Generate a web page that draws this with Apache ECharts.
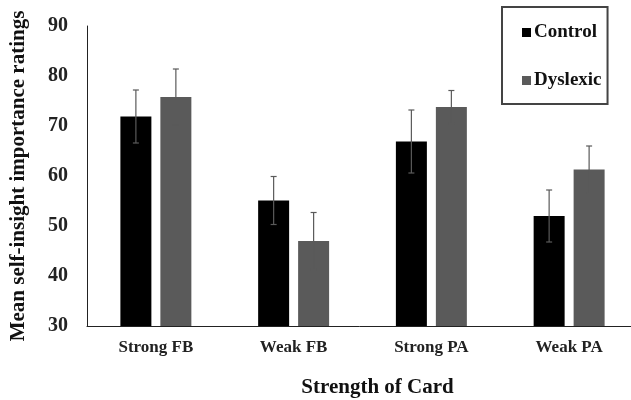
<!DOCTYPE html>
<html>
<head>
<meta charset="utf-8">
<script src="https://cdn.jsdelivr.net/npm/echarts@6/dist/echarts.min.js"></script>
<style>html,body{margin:0;padding:0;background:#fff}#c{width:631px;height:400px}</style>
</head>
<body>
<div id="c"></div>
<script>
const categories = ['Strong FB', 'Weak FB', 'Strong PA', 'Weak PA'];
const controlValues = [71.9, 55.1, 66.9, 52.0];
const controlErrors = [5.3, 4.8, 6.3, 5.2];
const dyslexicValues = [75.8, 47.0, 73.8, 61.3];
const dyslexicErrors = [5.6, 5.7, 3.3, 4.7];
const yTicks = [30, 40, 50, 60, 70, 80, 90];

const FONT = 'Liberation Serif, Times New Roman, serif';
const BAR_PCT = 0.225, GAP_PCT = 0.29;

function errorSeries(values, errors, sign) {
  return {
    type: 'custom',
    z: 5,
    data: values.map((v, i) => [i, v - errors[i], v + errors[i]]),
    renderItem: function (params, api) {
      const band = api.size([1, 0])[0];
      const bw = band * BAR_PCT;
      const off = sign * (bw + bw * GAP_PCT) / 2;
      const lo = api.coord([api.value(0), api.value(1)]);
      const hi = api.coord([api.value(0), api.value(2)]);
      const x = lo[0] + off;
      const cap = 3;
      const style = { stroke: '#5a5a5a', lineWidth: 1.2 };
      return {
        type: 'group',
        children: [
          { type: 'line', shape: { x1: x, y1: lo[1], x2: x, y2: hi[1] }, style: style },
          { type: 'line', shape: { x1: x - cap, y1: hi[1], x2: x + cap, y2: hi[1] }, style: style },
          { type: 'line', shape: { x1: x - cap, y1: lo[1], x2: x + cap, y2: lo[1] }, style: style }
        ]
      };
    }
  };
}

const chart = echarts.init(document.getElementById('c'));
chart.setOption({
  animation: false,
  backgroundColor: '#fff',
  grid: { left: 87, right: -7, top: 26, bottom: 74, containLabel: false, outerBoundsMode: 'none' },
  legend: {
    orient: 'vertical',
    left: 502, top: 7,
    data: ['Control', 'Dyslexic'],
    icon: 'rect', itemWidth: 9, itemHeight: 9, itemGap: 29,
    padding: [16, 6, 14, 20],
    borderColor: '#444', borderWidth: 2,
    textStyle: { fontFamily: FONT, fontWeight: 'bold', fontSize: 19, color: '#111', padding: [0, 0, 0, -2] }
  },
  xAxis: {
    type: 'category',
    data: categories,
    axisLine: { lineStyle: { color: '#222', width: 1 } },
    axisTick: { show: false },
    axisLabel: { fontFamily: FONT, fontWeight: 'bold', fontSize: 17, color: '#222', margin: 13 },
    name: 'Strength of Card',
    nameLocation: 'middle',
    nameGap: 51,
    nameTextStyle: { fontFamily: FONT, fontWeight: 'bold', fontSize: 21, color: '#111', padding: [0, 0, 0, 30] }
  },
  yAxis: {
    type: 'value',
    min: 30, max: 90, interval: 10,
    axisLine: { show: true, lineStyle: { color: '#222', width: 1 } },
    axisTick: { show: false },
    splitLine: { show: false },
    axisLabel: {
      fontFamily: FONT, fontWeight: 'bold', fontSize: 20, color: '#222', margin: 19,
      formatter: v => yTicks.includes(v) ? String(v) : ''
    },
    name: 'Mean self-insight importance ratings',
    nameLocation: 'middle',
    nameGap: 58,
    nameTextStyle: { fontFamily: FONT, fontWeight: 'bold', fontSize: 21, color: '#111' }
  },
  series: [
    { name: 'Control', type: 'bar', data: controlValues, barWidth: (BAR_PCT * 100) + '%', barGap: (GAP_PCT * 100) + '%',
      itemStyle: { color: '#000' } },
    { name: 'Dyslexic', type: 'bar', data: dyslexicValues, barWidth: (BAR_PCT * 100) + '%',
      itemStyle: { color: '#5a5a5a' } },
    errorSeries(controlValues, controlErrors, -1),
    errorSeries(dyslexicValues, dyslexicErrors, 1)
  ]
});
</script>
</body>
</html>
